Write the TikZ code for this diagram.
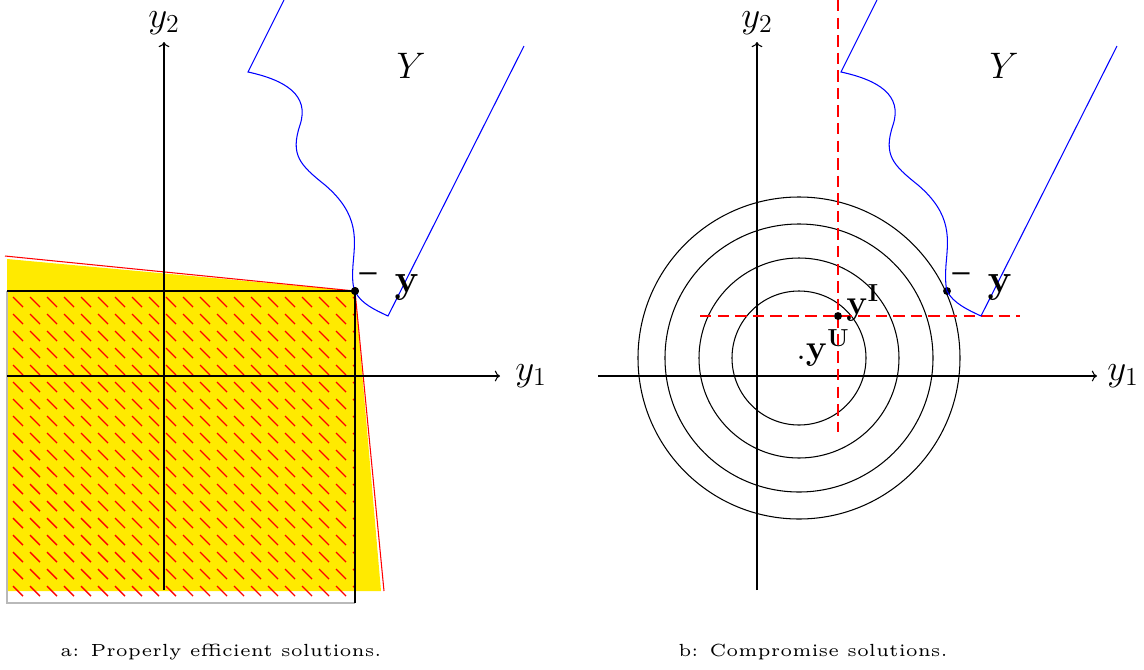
\RequirePackage{fix-cm}
\documentclass[tikz,border=0pt]{standalone}
\usetikzlibrary{arrows.meta}
\definecolor{yfill}{RGB}{255,234,0}
\definecolor{bordergray}{RGB}{185,185,185}
\tikzset{
  axis/.style={black, line width=0.6pt, ->},
  setY/.style={blue, line width=0.6pt},
  cone/.style={red, line width=0.6pt},
  hatch/.style={red, line width=0.8pt},
  frameline/.style={black, line width=0.8pt},
  ideal/.style={red, line width=1.2pt, dash pattern=on 6.5pt off 3.5pt},
  level/.style={black, line width=0.6pt},
  mlabel/.style={font=\fontsize{21}{25}\selectfont, inner sep=0pt},
  blabel/.style={font=\fontsize{23}{27}\selectfont, inner sep=0pt},
  slabel/.style={font=\fontsize{20}{24}\selectfont, inner sep=0pt, anchor=base west},
  barlabel/.style={font=\fontsize{22}{26}\selectfont\boldmath, inner sep=0pt, scale=1.1},
  caption/.style={font=\fontsize{5}{6}\selectfont, scale=2.0, inner sep=0pt},
  pt/.style={circle, fill=black, inner sep=0pt, minimum size=4.5pt}
}
\begin{document}
\begin{tikzpicture}[x=0.02cm, y=-0.02cm]
\useasboundingbox (0,0) rectangle (1144,670);

% ---------------- left panel ----------------
\coordinate (cTL) at (7,259);
\coordinate (cBR) at (381,591);
\coordinate (cBL) at (7,591);
\fill[yfill] (cTL) -- (355,291) -- (cBR) -- (cBL) -- cycle;
\begin{scope}
  \clip (7,291) rectangle (355,603);
  \foreach \i in {0,...,20}{
    \foreach \j in {0,...,18}{
      \draw[hatch] ({13+17*\i},{297+17*\j}) -- ++(10,10);
    }
  }
\end{scope}
\coordinate (rA) at (5,256);
\coordinate (rB) at (384,591);
\node[pt] (ybarA) at (355,291) {};
\draw[cone] (rA) -- (ybarA.center) -- (rB);
\coordinate (fTL) at (7,291);
\coordinate (fBL) at (7,603);
\coordinate (fBR) at (355,603);
\draw[bordergray, line width=0.8pt] (fTL) -- (fBL) -- (fBR);
\draw[frameline] (fTL) -- (ybarA.center) -- (fBR);
\coordinate (x1s) at (7,376);
\coordinate (x1e) at (500,376);
\coordinate (x2s) at (164,590);
\coordinate (x2e) at (164,42);
\draw[axis] (x1s) -- (x1e);
\draw[axis] (x2s) -- (x2e);
\node[mlabel] (y1A) at (531,376) {$y_1$};
\node[mlabel] (y2A) at (164,23) {$y_2$};
\coordinate (bA1) at (284,0);
\coordinate (bA2) at (248,72);
\coordinate (bA3) at (388,316);
\coordinate (bA4) at (524,46);
\draw[setY] (bA1) -- (bA2) .. controls (285,80) and (310,95) .. (300,125)
  .. controls (290,155) and (300,165) .. (325,185)
  .. controls (360,215) and (355,240) .. (353,265)
  .. controls (352,280) and (353,287) .. (ybarA.center)
  .. controls (360,303) and (375,310) .. (bA3) -- (bA4);
\node[pt] at (ybarA) {};
\node[mlabel] (YA) at (411,66) {$Y$};
\node[barlabel] (barA) at (368,286) {$\bar{\hphantom{i}}$};
\node[blabel] (yA) at (407,287) {$\mathbf{y}$};
\node[caption] (capA) at (221,652) {a: Properly efficient solutions.};

% ---------------- right panel ----------------
\coordinate (uC) at (799,358);
\foreach \r in {67,100,134,161}{
  \draw[level] (uC) circle (\r);
}
\coordinate (x1sB) at (598,376);
\coordinate (x1eB) at (1097,376);
\coordinate (x2sB) at (757,590);
\coordinate (x2eB) at (757,42);
\draw[axis] (x1sB) -- (x1eB);
\draw[axis] (x2sB) -- (x2eB);
\node[mlabel] (y1B) at (1123,376) {$y_1$};
\node[mlabel] (y2B) at (757,23) {$y_2$};
\coordinate (vT) at (838,0);
\coordinate (vB) at (838,432);
\coordinate (hL) at (700,316);
\coordinate (hR) at (1020,316);
\draw[ideal] (vT) -- (vB);
\draw[ideal] (hL) -- (hR);
\node[pt] (yI) at (838,316) {};
\node[pt] (ybarB) at (947,291) {};
\begin{scope}[xshift=593*0.02cm]
\draw[setY] (284,0) -- (248,72) .. controls (285,80) and (310,95) .. (300,125)
  .. controls (290,155) and (300,165) .. (325,185)
  .. controls (360,215) and (355,240) .. (353,265)
  .. controls (352,280) and (353,287) .. (354,291)
  .. controls (360,303) and (375,310) .. (388,316) -- (524,46);
\end{scope}
\node[mlabel] (YB) at (1004,66) {$Y$};
\node[barlabel] (barB) at (961,286) {$\bar{\hphantom{i}}$};
\node[blabel] (yB) at (1000,287) {$\mathbf{y}$};
\node[slabel] (yIlab) at (846,314) {$\mathbf{y}^{\mathbf{I}}$};
\node[slabel] (yUlab) at (796,359) {$.\mathbf{y}^{\mathbf{U}}$};
\node[caption] (capB) at (813,652) {b: Compromise solutions.};
\end{tikzpicture}
\end{document}
